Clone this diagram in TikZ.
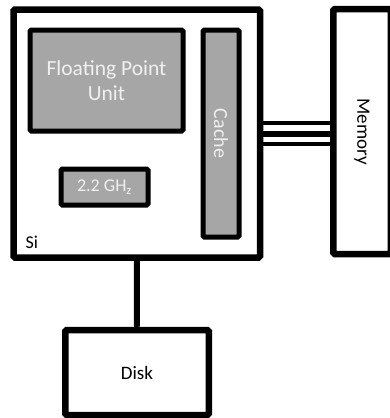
\documentclass[tikz,border=0pt]{standalone}
\usepackage{fontspec}
\setmainfont{Carlito}
\begin{document}
\begin{tikzpicture}[x=1pt,y=-1pt,
  outerbox/.style={draw=black, line width=6.5pt, fill=white, rounded corners=1.5pt, inner sep=0pt},
  grayunit/.style={draw=black, line width=5pt, fill=black!35, rounded corners=1.5pt, inner sep=0pt, text=white!94!black},
  wire/.style={draw=black, line width=#1},
  wire/.default=6pt]
\useasboundingbox (0,0) rectangle (390,418);
% chip
\node[outerbox, minimum width=246.5pt, minimum height=248pt] (si) at (136.75,133.5) {};
\node[anchor=base west, font=\fontsize{18}{18}\selectfont] (silabel) at (22,248) {Si};
\node[grayunit, minimum width=153pt, minimum height=101pt, align=center, font=\fontsize{21.5}{25}\selectfont] (fpu) at (106.5,80.5) {Floating Point\\Unit};
\node[grayunit, minimum width=36pt, minimum height=207pt] (cache) at (221,133.5) {};
\node[rotate=-90, text=white!94!black, font=\fontsize{20}{20}\selectfont] (cachelabel) at (cache.center) {Cache};
\node[grayunit, minimum width=87pt, minimum height=36pt, font=\fontsize{18}{18}\selectfont] (ghz) at (104.5,187) {2.2 GH\textsubscript{z}};
% memory
\node[outerbox, minimum width=57.5pt, minimum height=245pt] (mem) at (362,131.5) {};
\node[rotate=-90, font=\fontsize{19}{19}\selectfont] (memlabel) at (mem.center) {Memory};
% disk
\node[outerbox, minimum width=143.5pt, minimum height=85pt, font=\fontsize{19}{19}\selectfont] (disk) at (137,372.5) {Disk};
% connectors
\draw[wire=4pt] (si.east |- 0,122.5) -- (mem.west |- 0,122.5);
\draw[wire=6pt] (si.east |- 0,133.5) -- (mem.west |- 0,133.5);
\draw[wire=4pt] (si.east |- 0,144) -- (mem.west |- 0,144);
\draw[wire=6pt] (si.south) -- (disk.north);
\end{tikzpicture}
\end{document}
